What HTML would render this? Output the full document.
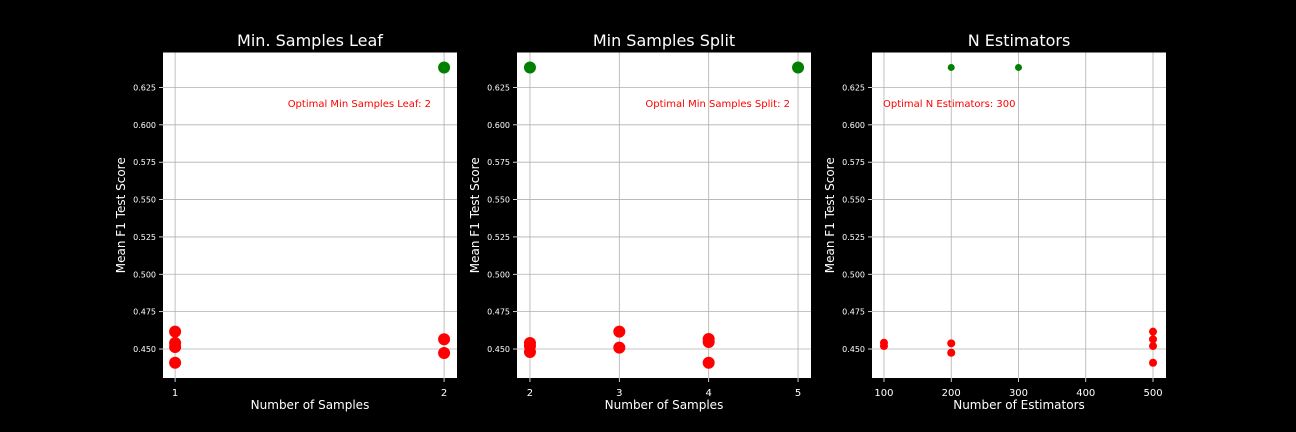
<!DOCTYPE html>
<html><head><meta charset="utf-8"><style>
html,body{margin:0;padding:0;background:#000;width:1296px;height:432px;overflow:hidden}
svg{display:block;font-family:"DejaVu Sans","Liberation Sans",sans-serif}
</style></head><body>
<svg id="chart" width="1296" height="432" viewBox="0 0 1296 432" xmlns="http://www.w3.org/2000/svg"></svg>
<script>
// Panel 1: Min Samples Leaf
const leafX = [1,1,1,1,2,2];
const leafY = [0.4616,0.4540,0.4513,0.4408,0.4565,0.4473];
const leafOptX = [2];
const leafOptY = [0.6384];
const leafTicks = [1,2];
// Panel 2: Min Samples Split
const splitX = [2,2,2,3,3,4,4,4];
const splitY = [0.4540,0.4520,0.4480,0.4616,0.4509,0.4567,0.4547,0.4408];
const splitOptX = [2,5];
const splitOptY = [0.6384,0.6384];
const splitTicks = [2,3,4,5];
// Panel 3: N Estimators
const estX = [100,100,200,200,500,500,500,500];
const estY = [0.4542,0.4520,0.4538,0.4475,0.4616,0.4565,0.4520,0.4408];
const estOptX = [200,300];
const estOptY = [0.6384,0.6384];
const estTicks = [100,200,300,400,500];
const yTicks = [0.450,0.475,0.500,0.525,0.550,0.575,0.600,0.625];

const svg = document.getElementById('chart');
const NS = 'http://www.w3.org/2000/svg';
function mk(tag, attrs, parent){
  const e = document.createElementNS(NS, tag);
  for (const k in attrs) e.setAttribute(k, attrs[k]);
  (parent||svg).appendChild(e);
  return e;
}
const Y0 = 52.5, Y1 = 378;
const yMin = 0.4306, yMax = 0.6484;
function yScale(v){ return Y1 - (v - yMin) / (yMax - yMin) * (Y1 - Y0); }

function panel(o){
  const g = mk('g', {});
  
  
  const xs = v => o.left + (v - o.xmin) / (o.xmax - o.xmin) * 294;
  const bg = mk('rect', {x:o.left, y:Y0, width:294, height:Y1-Y0, fill:'#fff'}, g);
  
  
  o.ticks.forEach(t => {
    const x = xs(t);
    const gl = mk('line', {x1:x, x2:x, y1:Y0, y2:Y1, stroke:'#b0b0b0', 'stroke-width':0.8}, g);
    
    
    mk('line', {x1:x, x2:x, y1:Y1, y2:Y1+4, stroke:'#fff', 'stroke-width':0.8}, g);
    const tl = mk('text', {x:x, y:Y1+18, fill:'#fff', 'font-size':10, 'text-anchor':'middle'}, g);
    tl.textContent = t;
    
    
  });
  yTicks.forEach(t => {
    const y = yScale(t);
    const gl = mk('line', {x1:o.left, x2:o.left+294, y1:y, y2:y, stroke:'#b0b0b0', 'stroke-width':0.8}, g);
    
    
    mk('line', {x1:o.left-4, x2:o.left, y1:y, y2:y, stroke:'#fff', 'stroke-width':0.8}, g);
    const tl = mk('text', {x:o.left-7, y:y+3, fill:'#fff', 'font-size':8, 'text-anchor':'end'}, g);
    tl.textContent = t.toFixed(3);
    
    
  });
  o.xs.forEach((v,i) => {
    const c = mk('circle', {cx:xs(v), cy:yScale(o.ys[i]), r:o.r, fill:'#ff0000'}, g);
    
    
  });
  o.oxs.forEach((v,i) => {
    const c = mk('circle', {cx:xs(v), cy:yScale(o.oys[i]), r:o.gr, fill:'#008000'}, g);
    
    
  });
  const an = mk('text', {x:o.annX, y:107, fill:'#ff0000', 'font-size':10, 'text-anchor':o.anchor}, g);
  an.textContent = o.ann;
  
  
  const ti = mk('text', {x:o.left+147, y:46, fill:'#fff', 'font-size':16, 'text-anchor':'middle'}, g);
  ti.textContent = o.title;
  
  
  const xl = mk('text', {x:o.left+147, y:409, fill:'#fff', 'font-size':12, 'text-anchor':'middle'}, g);
  xl.textContent = o.xlabel;
  
  
  const yl = mk('text', {x:0, y:0, fill:'#fff', 'font-size':12, 'text-anchor':'middle', transform:`translate(${o.left-38},${(Y0+Y1)/2}) rotate(-90)`}, g);
  yl.textContent = 'Mean F1 Test Score';
  
  
}

panel({name:'min-samples-leaf-panel', left:163, xmin:0.955, xmax:2.048, ticks:leafTicks, xs:leafX, ys:leafY, oxs:leafOptX, oys:leafOptY, r:6, gr:6,
  title:'Min. Samples Leaf', xlabel:'Number of Samples', ann:'Optimal Min Samples Leaf: 2', annX:431, anchor:'end'});
panel({name:'min-samples-split-panel', left:517, xmin:1.855, xmax:5.145, ticks:splitTicks, xs:splitX, ys:splitY, oxs:splitOptX, oys:splitOptY, r:6, gr:6,
  title:'Min Samples Split', xlabel:'Number of Samples', ann:'Optimal Min Samples Split: 2', annX:790, anchor:'end'});
panel({name:'n-estimators-panel', left:872, xmin:82.2, xmax:519.3, ticks:estTicks, xs:estX, ys:estY, oxs:estOptX, oys:estOptY, r:4, gr:3.5,
  title:'N Estimators', xlabel:'Number of Estimators', ann:'Optimal N Estimators: 300', annX:883, anchor:'start'});
</script>
</body></html>
